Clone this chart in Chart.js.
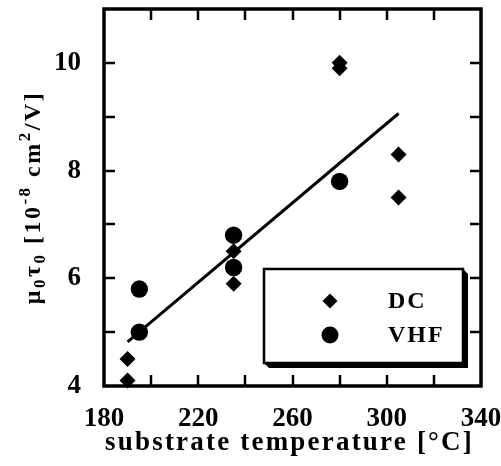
<!DOCTYPE html>
<html>
<head>
<meta charset="utf-8">
<script src="https://cdn.jsdelivr.net/npm/chart.js@4"></script>
<style>
  html, body { margin: 0; padding: 0; background: #fff; }
</style>
</head>
<body>
<canvas id="mobilityChart" width="501" height="466"></canvas>
<script>
// DC plasma samples
const dcTemp = [190, 190, 235, 235, 280, 280, 305, 305];
const dcMuTau = [4.1, 4.5, 5.9, 6.5, 9.9, 10.0, 7.5, 8.3];
// VHF plasma samples
const vhfTemp = [195, 195, 235, 235, 280];
const vhfMuTau = [5.0, 5.8, 6.2, 6.8, 7.8];
// fitted line end points
const fitTemp = [190, 305];
const fitMuTau = [4.82, 9.06];
// labelled ticks
const xLabels = [180, 220, 260, 300, 340];
const yLabels = [4, 6, 8, 10];

const FONT = '"Liberation Serif", "Times New Roman", serif';

function toPoints(xs, ys) {
    return xs.map((v, i) => ({ x: v, y: ys[i] }));
}

function noPad(s) {
    s.paddingTop = 0;
    s.paddingBottom = 0;
    s.paddingLeft = 0;
    s.paddingRight = 0;
}

// frame with inward ticks on all four sides
const framePlugin = {
    id: 'frame',
    afterDatasetsDraw(chart) {
        const { ctx, chartArea: a, scales: { x, y } } = chart;
        const len = 11;
        ctx.save();
        ctx.strokeStyle = '#000';
        ctx.lineWidth = 2.5;
        ctx.beginPath();
        x.ticks.forEach(t => {
            if (t.value <= x.min || t.value >= x.max) return;
            const px = Math.round(x.getPixelForValue(t.value));
            ctx.moveTo(px, a.bottom); ctx.lineTo(px, a.bottom - len);
            ctx.moveTo(px, a.top); ctx.lineTo(px, a.top + len);
        });
        y.ticks.forEach(t => {
            if (t.value <= y.min || t.value >= y.max) return;
            const py = Math.round(y.getPixelForValue(t.value));
            ctx.moveTo(a.left, py); ctx.lineTo(a.left + len, py);
            ctx.moveTo(a.right, py); ctx.lineTo(a.right - len, py);
        });
        ctx.stroke();
        ctx.lineWidth = 3.5;
        ctx.strokeRect(a.left, a.top, a.right - a.left, a.bottom - a.top);
        ctx.restore();
    }
};

// axis titles (with sub/superscripts) and boxed legend
const decorPlugin = {
    id: 'decor',
    afterDraw(chart) {
        const { ctx, chartArea: a } = chart;
        ctx.save();
        ctx.fillStyle = '#000';

        // x title
        ctx.font = 'bold 27px ' + FONT;
        ctx.letterSpacing = '2.2px';
        ctx.textAlign = 'center';
        ctx.textBaseline = 'alphabetic';
        ctx.fillText('substrate temperature [°C]', (a.left + a.right) / 2 - 3, 450);

        // y title, rotated
        const parts = [
            ['μ', 0], ['0', 1], ['τ', 0], ['0', 1], [' [10', 0], ['-8', -1],
            [' cm', 0], ['2', -1], ['/V]', 0]
        ];
        const big = 'bold 24px ' + FONT, small = 'bold 17px ' + FONT;
        ctx.letterSpacing = '2.5px';
        ctx.textAlign = 'left';
        let total = 0;
        parts.forEach(p => { ctx.font = p[1] ? small : big; total += ctx.measureText(p[0]).width; });
        ctx.translate(40, (a.top + a.bottom) / 2);
        ctx.rotate(-Math.PI / 2);
        let cx = -total / 2;
        parts.forEach(p => {
            ctx.font = p[1] ? small : big;
            const dy = p[1] === 1 ? 5 : (p[1] === -1 ? -10 : 0);
            ctx.fillText(p[0], cx, dy);
            cx += ctx.measureText(p[0]).width;
        });
        ctx.setTransform(1, 0, 0, 1, 0, 0);

        // legend box with drop shadow
        const bx = 264, by = 269, bw = 199, bh = 94, sh = 5;
        ctx.beginPath();
        ctx.moveTo(bx + bw, by);
        ctx.lineTo(bx + bw + sh, by + sh);
        ctx.lineTo(bx + bw + sh, by + bh + sh);
        ctx.lineTo(bx + sh, by + bh + sh);
        ctx.lineTo(bx, by + bh);
        ctx.closePath();
        ctx.fill();
        ctx.fillStyle = '#fff';
        ctx.fillRect(bx, by, bw, bh);
        ctx.strokeStyle = '#000';
        ctx.lineWidth = 2.5;
        ctx.strokeRect(bx, by, bw, bh);

        ctx.fillStyle = '#000';
        ctx.font = 'bold 24px ' + FONT;
        ctx.letterSpacing = '2px';
        ctx.textBaseline = 'middle';
        const rows = chart.data.datasets.filter(d => d.label);
        rows.forEach((d, i) => {
            const my = 301 + i * 34;
            ctx.beginPath();
            if (d.pointStyle === 'rectRot') {
                const r = 7.5;
                ctx.moveTo(330 - r, my); ctx.lineTo(330, my - r);
                ctx.lineTo(330 + r, my); ctx.lineTo(330, my + r);
                ctx.closePath();
            } else {
                ctx.arc(330, my, 8.5, 0, Math.PI * 2);
            }
            ctx.fill();
            ctx.fillText(d.label, 388, my + 1);
        });
        ctx.restore();
    }
};

new Chart(document.getElementById('mobilityChart'), {
    type: 'scatter',
    data: {
        datasets: [
            {
                label: 'DC',
                data: toPoints(dcTemp, dcMuTau),
                pointStyle: 'rectRot',
                pointRadius: 8,
                backgroundColor: '#000',
                borderColor: '#000',
                borderWidth: 0,
                clip: false
            },
            {
                label: 'VHF',
                data: toPoints(vhfTemp, vhfMuTau),
                pointStyle: 'circle',
                pointRadius: 8.7,
                backgroundColor: '#000',
                borderColor: '#000',
                borderWidth: 0,
                clip: false
            },
            {
                type: 'line',
                label: '',
                data: toPoints(fitTemp, fitMuTau),
                borderColor: '#000',
                borderWidth: 3,
                pointRadius: 0,
                fill: false
            }
        ]
    },
    options: {
        responsive: false,
        animation: false,
        devicePixelRatio: 1,
        layout: { padding: { left: 0, top: 9, right: 20, bottom: 0 } },
        plugins: {
            legend: { display: false },
            tooltip: { enabled: false }
        },
        scales: {
            x: {
                type: 'linear',
                min: 180,
                max: 340,
                grid: { display: false },
                border: { display: false },
                ticks: {
                    stepSize: 20,
                    autoSkip: false,
                    maxRotation: 0,
                    padding: 9,
                    color: '#000',
                    font: { family: FONT, size: 27, weight: 'bold' },
                    callback: v => xLabels.includes(v) ? String(v) : ''
                },
                afterFit: s => { s.height = 80; noPad(s); }
            },
            y: {
                type: 'linear',
                min: 4,
                max: 11,
                grid: { display: false },
                border: { display: false },
                ticks: {
                    stepSize: 1,
                    autoSkip: false,
                    padding: 15,
                    color: '#000',
                    font: { family: FONT, size: 27, weight: 'bold' },
                    callback: v => yLabels.includes(v) ? String(v) : ''
                },
                afterFit: s => { s.width = 104; noPad(s); }
            }
        }
    },
    plugins: [framePlugin, decorPlugin]
});
</script>
</body>
</html>
